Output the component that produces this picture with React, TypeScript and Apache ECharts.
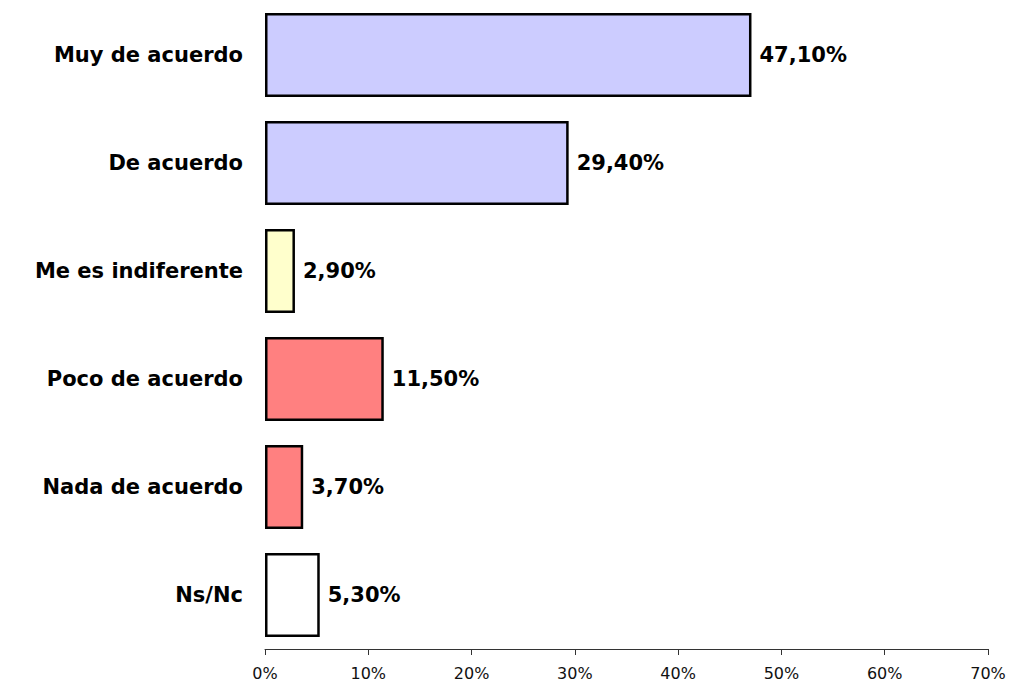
import React, { useEffect, useRef } from "react";
import * as echarts from "echarts";

const categories = [
  "Muy de acuerdo",
  "De acuerdo",
  "Me es indiferente",
  "Poco de acuerdo",
  "Nada de acuerdo",
  "Ns/Nc",
];
const values = [47.1, 29.4, 2.9, 11.5, 3.7, 5.3];
const barColors = ["#CCCCFF", "#CCCCFF", "#FFFFCC", "#FF8080", "#FF8080", "#FFFFFF"];
const xTicks = [0, 10, 20, 30, 40, 50, 60, 70];

export default function App() {
  const ref = useRef<HTMLDivElement>(null);
  useEffect(() => {
    document.body.style.margin = "0";
    if (!ref.current) return;
    const chart = echarts.init(ref.current, undefined, { renderer: "svg" });
    chart.setOption({
      animation: false,
      backgroundColor: "#FFFFFF",
      grid: { left: 265, right: 22, top: 1, bottom: 35, containLabel: false },
      xAxis: {
        type: "value",
        min: xTicks[0],
        max: xTicks[xTicks.length - 1],
        interval: 10,
        axisLine: { show: true, lineStyle: { color: "#333333", width: 1 } },
        axisTick: { show: true, length: 6, lineStyle: { color: "#333333" } },
        splitLine: { show: false },
        axisLabel: {
          formatter: "{value}%",
          color: "#111111",
          fontSize: 16,
          fontFamily: "DejaVu Sans",
          margin: 16,
        },
      },
      yAxis: {
        type: "category",
        data: categories,
        inverse: true,
        axisLine: { show: false },
        axisTick: { show: false },
        axisLabel: {
          color: "#000000",
          fontSize: 21,
          fontWeight: "bold",
          fontFamily: "DejaVu Sans",
          margin: 22,
        },
      },
      series: [
        {
          type: "bar",
          barCategoryGap: "22%",
          data: values.map((v, i) => ({
            value: v,
            itemStyle: { color: barColors[i], borderColor: "#000000", borderWidth: 2.5 },
          })),
          label: {
            show: true,
            position: "right",
            distance: 8,
            color: "#000000",
            fontSize: 21,
            fontWeight: "bold",
            fontFamily: "DejaVu Sans",
            formatter: (p: any) => p.value.toFixed(2).replace(".", ",") + "%",
          },
        },
      ],
    });
    return () => chart.dispose();
  }, []);
  return <div ref={ref} style={{ width: 1010, height: 684, position: "absolute", left: 0, top: 0 }} />;
}
